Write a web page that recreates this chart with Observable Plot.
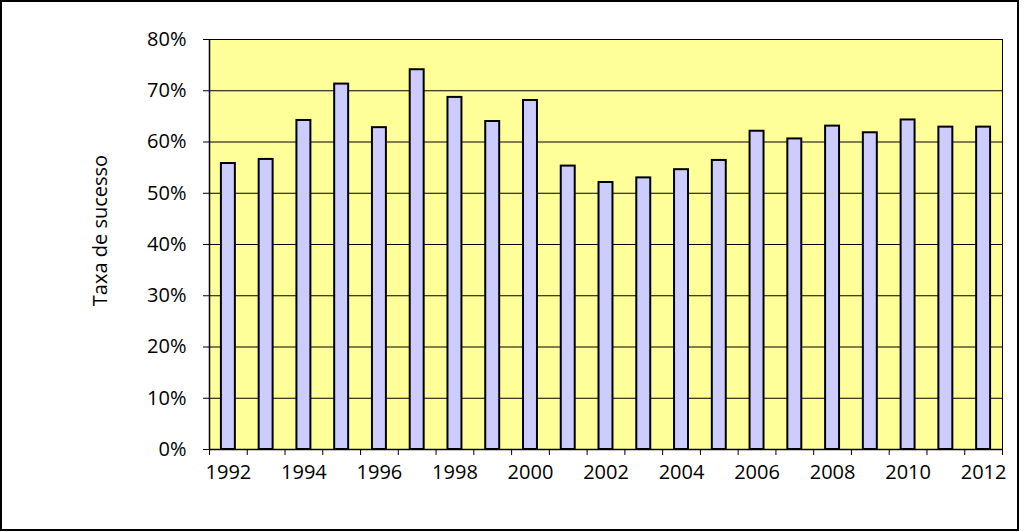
<!DOCTYPE html>
<html>
<head>
<meta charset="utf-8">
<script src="https://cdn.jsdelivr.net/npm/d3@7"></script>
<script src="https://cdn.jsdelivr.net/npm/@observablehq/plot@0.6"></script>
<style>
  html, body { margin: 0; padding: 0; background: #fff; }
  #wrap { position: relative; width: 1024px; height: 532px; }
  #wrap svg { position: absolute; left: 0; top: 0; }
  #border { position: absolute; left: 0; top: 0; width: 1019px; height: 531px; box-sizing: border-box; border: 2px solid #000; pointer-events: none; }
</style>
</head>
<body>
<div id="wrap"><div id="border"></div></div>
<script>
const years = [1992, 1993, 1994, 1995, 1996, 1997, 1998, 1999, 2000, 2001, 2002, 2003, 2004, 2005, 2006, 2007, 2008, 2009, 2010, 2011, 2012];
const rates = [55.8, 56.6, 64.2, 71.3, 62.8, 74.1, 68.7, 64.0, 68.1, 55.3, 52.1, 53.0, 54.6, 56.4, 62.1, 60.6, 63.1, 61.8, 64.3, 62.9, 62.9];
const yTicks = [0, 0.1, 0.2, 0.3, 0.4, 0.5, 0.6, 0.7, 0.8];
const xLabelYears = [1992, 1994, 1996, 1998, 2000, 2002, 2004, 2006, 2008, 2010, 2012];
const yTitle = "Taxa de sucesso";

const data = years.map((year, i) => ({year, rate: rates[i] / 100}));
const boundaries = years.map(y => y - 0.5).concat([years[years.length - 1] + 0.5]);

const chart = Plot.plot({
  width: 1024,
  height: 532,
  marginLeft: 209,
  marginRight: 22,
  marginTop: 39,
  marginBottom: 83,
  style: {fontFamily: "'Open Sans', sans-serif", fontSize: "20px", color: "#000", background: "transparent", overflow: "visible"},
  x: {domain: [years[0] - 0.5, years[years.length - 1] + 0.5]},
  y: {domain: [0, 0.8]},
  marks: [
    Plot.frame({fill: "#ffff99", stroke: null}),
    Plot.gridY(yTicks, {stroke: "#000", strokeOpacity: 1, strokeWidth: 1}),
    Plot.rectY(data, {
      x1: d => d.year - 0.5,
      x2: d => d.year + 0.5,
      y1: 0,
      y2: "rate",
      insetLeft: 11.9,
      insetRight: 11.9,
      fill: "#ccccff",
      stroke: "#000",
      strokeWidth: 2
    }),
    Plot.frame({stroke: "#000", strokeWidth: 1}),
    Plot.ruleX([years[0] - 0.5], {stroke: "#000", strokeWidth: 1.5}),
    Plot.ruleY([0], {stroke: "#000", strokeWidth: 1.5}),
    Plot.axisY({ticks: yTicks, tickFormat: d3.format(".0%"), tickSize: 6, tickPadding: 17, label: null, stroke: "#000", fontSize: 20}),
    Plot.axisX({ticks: boundaries, tickFormat: () => "", tickSize: 6, label: null, stroke: "#000"}),
    Plot.axisX({ticks: xLabelYears, tickFormat: d => String(d), tickSize: 0, tickPadding: 15.5, label: null, fontSize: 20}),
    Plot.text([yTitle], {frameAnchor: "left", textAnchor: "middle", text: d => d, rotate: -90, dx: -109, dy: -14, fontSize: 20, fill: "#000"})
  ]
});
document.getElementById("wrap").prepend(chart);
</script>
</body>
</html>
